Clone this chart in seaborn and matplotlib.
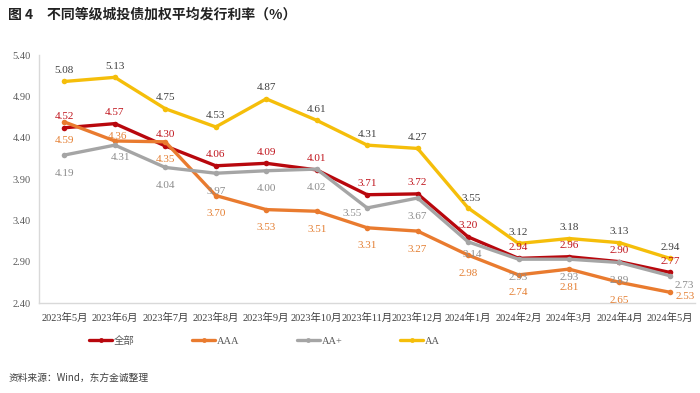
import matplotlib
matplotlib.use("Agg")
import matplotlib.pyplot as plt
from matplotlib.ticker import FixedLocator
import seaborn as sns
import pandas as pd
import numpy as np

# data
months = ["2023年5月", "2023年6月", "2023年7月", "2023年8月", "2023年9月", "2023年10月",
          "2023年11月", "2023年12月", "2024年1月", "2024年2月", "2024年3月", "2024年4月", "2024年5月"]
all_rate = [4.52, 4.57, 4.30, 4.06, 4.09, 4.01, 3.71, 3.72, 3.20, 2.94, 2.96, 2.90, 2.77]
aaa_rate = [4.59, 4.36, 4.35, 3.70, 3.53, 3.51, 3.31, 3.27, 2.98, 2.74, 2.81, 2.65, 2.53]
aap_rate = [4.19, 4.31, 4.04, 3.97, 4.00, 4.02, 3.55, 3.67, 3.14, 2.93, 2.93, 2.89, 2.73]
aa_rate = [5.08, 5.13, 4.75, 4.53, 4.87, 4.61, 4.31, 4.27, 3.55, 3.12, 3.18, 3.13, 2.94]
series_names = ["全部", "AAA", "AA+", "AA"]
y_ticks = [2.40, 2.90, 3.40, 3.90, 4.40, 4.90, 5.40]

line_colors = {"全部": "#B8070D", "AAA": "#E97B2F", "AA+": "#A5A5A5", "AA": "#F5BE0A"}
label_colors = {"全部": "#C0141C", "AAA": "#E47F32", "AA+": "#8C8C8C", "AA": "#404040"}
# default label offset (points) per series, plus a few individual tweaks
label_offset = {"全部": (0, 8), "AAA": (0, -13), "AA+": (0, -13), "AA": (0, 8)}
special_offset = {("AAA", 1): (2, 3), ("AA+", 1): (4, -9), ("AA+", 6): (-11, -4),
                  ("AA+", 8): (3, -9), ("AA", 8): (2, 7),
                  ("AA+", 12): (10, -7), ("AAA", 12): (11, -3)}

sns.set_style("white")
plt.rcParams["font.family"] = ["Liberation Serif", "Noto Sans CJK SC", "DejaVu Sans"]

vals = {"全部": all_rate, "AAA": aaa_rate, "AA+": aap_rate, "AA": aa_rate}
rows = []
for name in series_names:
    for i, m in enumerate(months):
        rows.append({"pos": i, "month": m, "series": name, "rate": vals[name][i]})
df = pd.DataFrame(rows)

fig = plt.figure(figsize=(7, 3.93), dpi=100)
ax = fig.add_axes([0.056, 0.229, 0.937, 0.631])

sns.lineplot(data=df, x="pos", y="rate", hue="series", hue_order=series_names,
             palette=line_colors, marker="o", markersize=4, markeredgewidth=0,
             linewidth=2.4, sort=False, ax=ax, legend=False)

for name in series_names:
    for i, v in enumerate(vals[name]):
        dx, dy = special_offset.get((name, i), label_offset[name])
        ax.annotate(f"{v:.2f}", (i, v), xytext=(dx, dy), textcoords="offset points",
                    ha="center", va="center", fontsize=8, color=label_colors[name],
                    annotation_clip=False)

ax.set_xlim(-0.5, len(months) - 0.5)
ax.set_ylim(2.40, 5.40)
ax.set_yticks(y_ticks)
ax.set_yticklabels([f"{t:.2f}" for t in y_ticks])
ax.set_xticks(range(len(months)))
ax.set_xticklabels(months)
ax.xaxis.set_minor_locator(FixedLocator(np.arange(-0.5, len(months), 1.0)))
ax.tick_params(axis="x", which="major", length=0, pad=7, labelsize=7.5, colors="#404040")
ax.tick_params(axis="x", which="minor", length=3, direction="in", color="#D0D0D0", width=1)
ax.tick_params(axis="y", length=3, direction="out", color="#D0D0D0", labelsize=7.5,
               colors="#595959", pad=3)
ax.set_xlabel("")
ax.set_ylabel("")
for s in ["top", "right"]:
    ax.spines[s].set_visible(False)
for s in ["left", "bottom"]:
    ax.spines[s].set_color("#D9D9D9")
    ax.spines[s].set_linewidth(1)

handles = [plt.Line2D([], [], color=line_colors[n], linewidth=2.4, marker="o",
                      markersize=3.5, markeredgewidth=0) for n in series_names]
fig.legend(handles, series_names, loc="center left", bbox_to_anchor=(0.114, 0.132),
           ncol=4, frameon=False, fontsize=7.5, handlelength=2.2, handletextpad=0.2,
           columnspacing=5.5, labelcolor="#595959")

fig.text(0.012, 0.962, "图 4　不同等级城投债加权平均发行利率（%）", fontsize=10,
         fontweight="bold", family=["Noto Sans CJK SC", "DejaVu Sans"], color="#222222",
         va="center")
fig.text(0.012, 0.038, "资料来源：Wind，东方金诚整理", fontsize=7,
         family=["Noto Sans CJK SC", "DejaVu Sans"], color="#404040", va="center")

fig.savefig("out.png", dpi=100)
